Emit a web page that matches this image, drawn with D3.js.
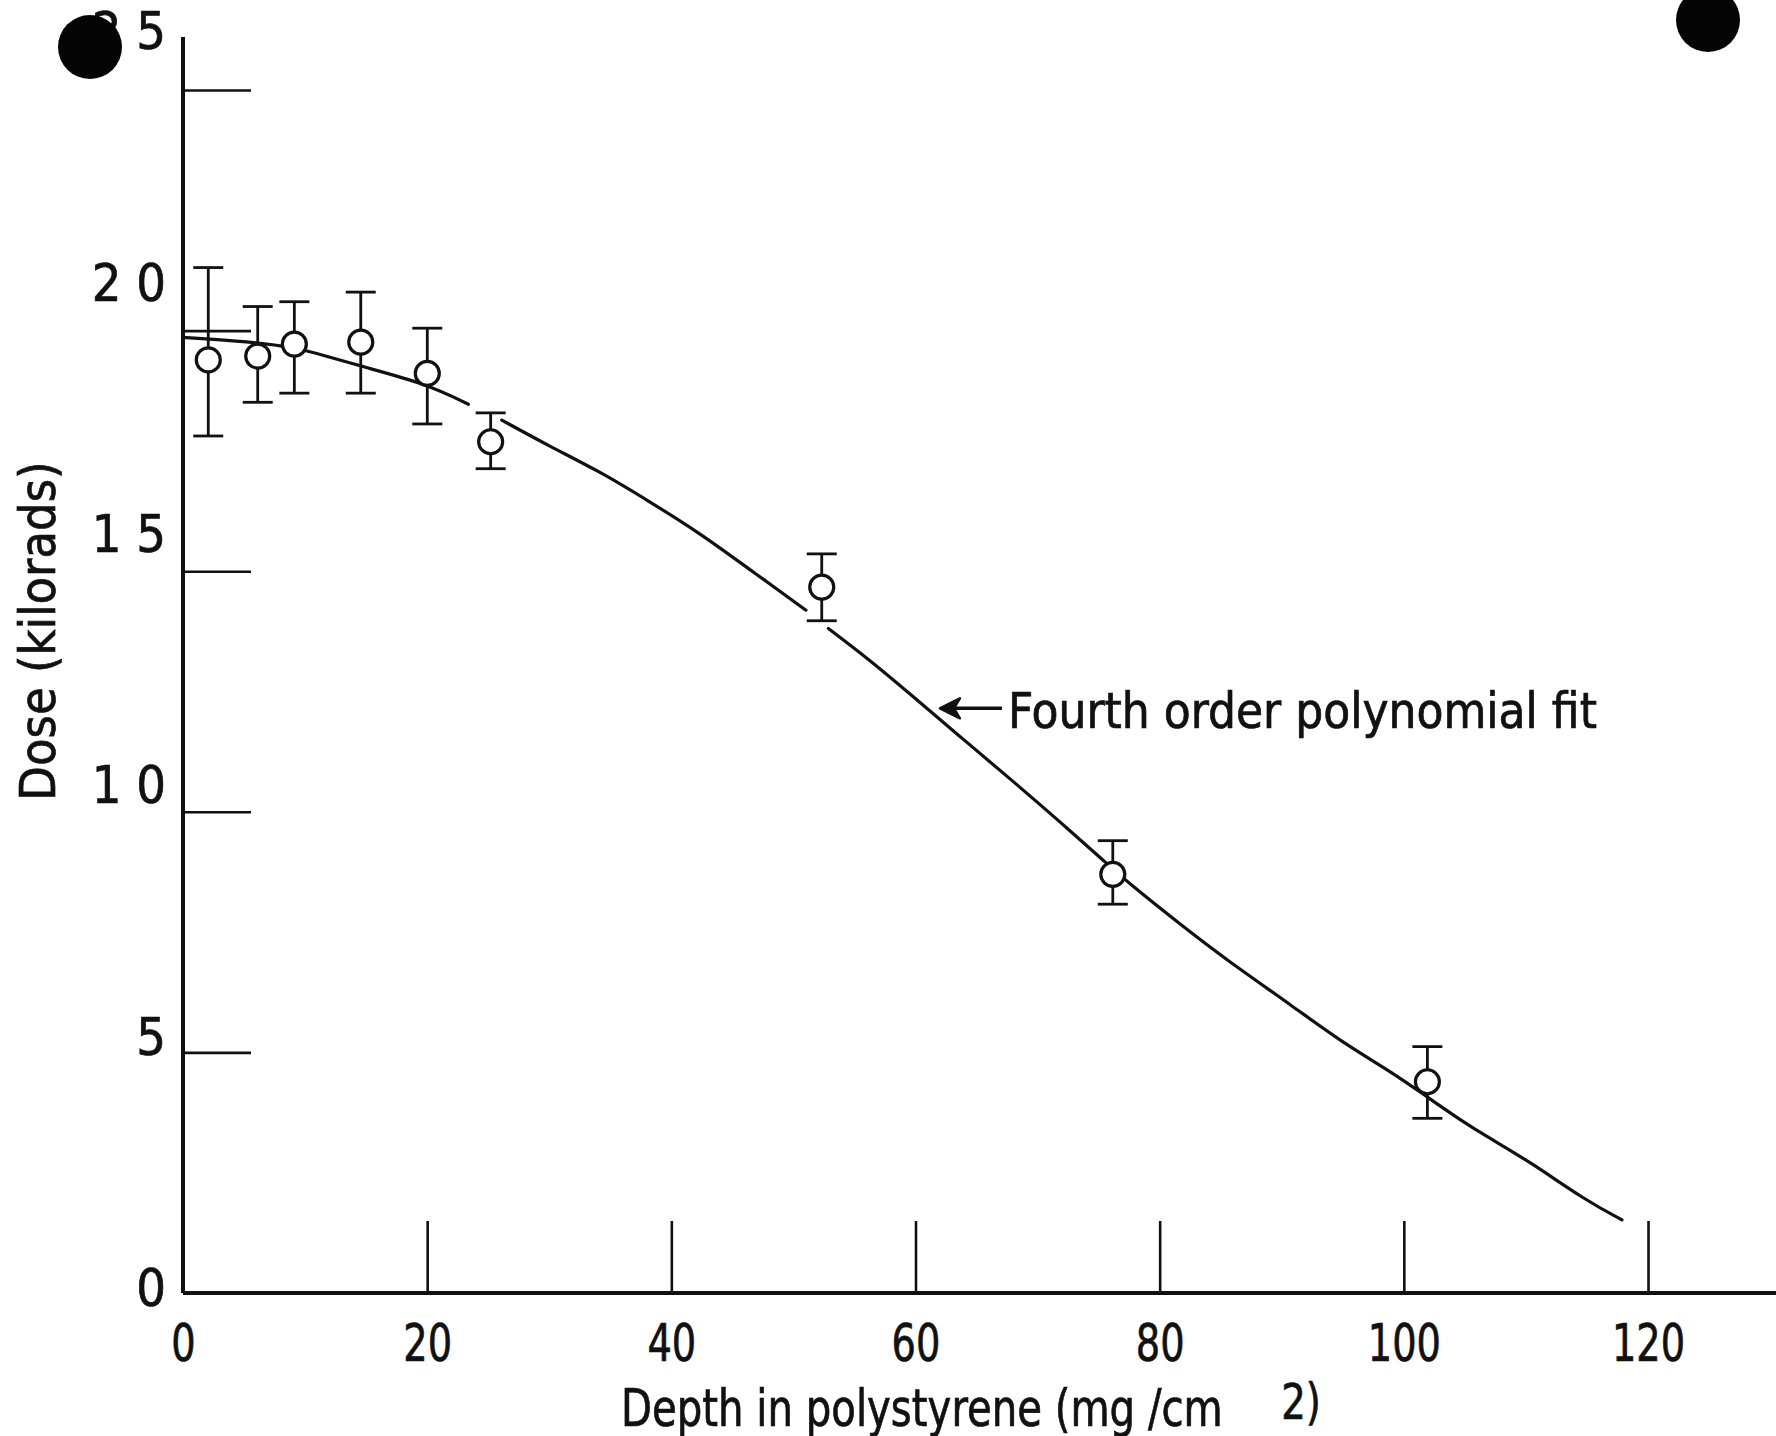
<!DOCTYPE html>
<html>
<head>
<meta charset="utf-8">
<script src="https://cdn.jsdelivr.net/npm/d3@7"></script>
<style>
body { margin: 0; background: #fff; }
svg { display: block; }
text { font-family: "Liberation Sans Narrow", "DejaVu Sans Condensed", "Roboto Condensed", sans-serif; fill: #111; stroke: #111; stroke-width: 0.7px; }
</style>
</head>
<body>
<script>
// measured points: depth (mg/cm2) and dose (kilorads) with error bar ends
var depth    = [2.07, 6.12, 9.12, 14.56, 20.01, 25.20, 52.32, 76.16, 101.93];
var dose     = [19.39, 19.47, 19.72, 19.76, 19.11, 17.69, 14.67, 8.70, 4.39];
var doseHigh = [21.31, 20.50, 20.60, 20.80, 20.05, 18.29, 15.36, 9.40, 5.12];
var doseLow  = [17.81, 18.51, 18.70, 18.70, 18.06, 17.13, 13.97, 8.08, 3.63];

// fourth order fit, null marks a break in the drawn line
var fitDepth = [0, 5.49, 9.12, 11.49, 14.56, 20.01, 23.37, 24.8, 26.11, 30.06, 34.16, 38.25, 42.35, 46.45, 51.03, 52.0,
                52.86, 56.27, 59.22, 63.89, 68.48, 71.84, 75.53, 77.30, 81.94, 85.49, 90.95, 95.05, 99.14, 101.88,
                104.60, 107.06, 110.25, 114.92, 117.87];
var fitDose  = [19.86, 19.77, 19.65, 19.49, 19.26, 18.89, 18.47, null, 18.14, 17.59, 17.07, 16.44, 15.79, 15.03, 14.19, null,
                13.81, 13.15, 12.52, 11.51, 10.53, 9.79, 8.96, 8.55, 7.61, 6.92, 5.95, 5.19, 4.57, 4.08,
                3.60, 3.21, 2.74, 1.92, 1.52];

var xTicks = [0, 20, 40, 60, 80, 100, 120];
var yTicks = [0, 5, 10, 15, 20, 25];
var yTickLabels = ["0", "5", "1 0", "1 5", "2 0", "2 5"];

var note = {depth: 62.0, dose: 12.15, text: "Fourth order polynomial fit"};

// set the dimensions and margins of the graph
var margin = {top: 90, right: 128, bottom: 143, left: 183},
    width = 1776 - margin.left - margin.right,
    height = 1436 - margin.top - margin.bottom;

var x = d3.scaleLinear().domain([0, 120]).range([0, width]);
var y = d3.scaleLinear().domain([0, 25]).range([height, 0]);

// the scanned tick labels drift upward along the axis
var labelShift = d3.scaleLinear().domain([0, 25]).range([-4, -58]);

var root = d3.select("body").append("svg")
    .attr("width", width + margin.left + margin.right)
    .attr("height", height + margin.top + margin.bottom);

root.append("rect")
    .attr("width", width + margin.left + margin.right)
    .attr("height", height + margin.top + margin.bottom)
    .style("fill", "#fff");

var svg = root.append("g")
    .attr("transform", "translate(" + margin.left + "," + margin.top + ")");

// x axis, ticks pointing up
var xAxis = svg.append("g")
    .attr("transform", "translate(0," + height + ")")
    .call(d3.axisBottom(x)
        .tickValues(xTicks)
        .tickSize(-72)
        .tickPadding(31)
        .tickFormat(d3.format("d")));
xAxis.select(".domain").remove();
xAxis.selectAll(".tick line").attr("stroke", "#111").attr("stroke-width", 2.6);
xAxis.selectAll(".tick text")
    .style("font-size", "52px")
    .attr("fill", "#111")
    .attr("transform", "scale(0.82,1)");

// y axis, ticks pointing right
var yAxis = svg.append("g")
    .call(d3.axisLeft(y)
        .tickValues(yTicks)
        .tickSize(-68)
        .tickPadding(17)
        .tickFormat(function(d, i) { return yTickLabels[i]; }));
yAxis.select(".domain").remove();
yAxis.selectAll(".tick line").attr("stroke", "#111").attr("stroke-width", 2.6);
yAxis.selectAll(".tick text")
    .style("font-size", "52px")
    .attr("fill", "#111")
    .attr("y", function(d) { return labelShift(d); });

// axis lines drawn heavier, x line runs off the page
svg.append("line")
    .attr("x1", x(0)).attr("x2", width + margin.right)
    .attr("y1", y(0)).attr("y2", y(0))
    .attr("stroke", "#111").attr("stroke-width", 4);
svg.append("line")
    .attr("x1", x(0)).attr("x2", x(0))
    .attr("y1", y(0)).attr("y2", y(26.1))
    .attr("stroke", "#111").attr("stroke-width", 4);

// fit curve
var fit = fitDepth.map(function(d, i) { return {depth: d, dose: fitDose[i]}; });
var valueline = d3.line()
    .defined(function(d) { return d.dose != null; })
    .curve(d3.curveBasis)
    .x(function(d) { return x(d.depth); })
    .y(function(d) { return y(d.dose); });

svg.append("path")
    .datum(fit)
    .attr("fill", "none")
    .attr("stroke", "#111")
    .attr("stroke-width", 3.2)
    .attr("stroke-linecap", "round")
    .attr("d", valueline);

// error bars and open circles
var points = depth.map(function(d, i) {
    return {depth: d, dose: dose[i], hi: doseHigh[i], lo: doseLow[i]};
});

var bars = svg.selectAll(".bar")
    .data(points)
    .enter()
    .append("g")
    .attr("class", "bar")
    .attr("stroke", "#111")
    .attr("stroke-width", 2.8);

bars.append("line")
    .attr("x1", function(d) { return x(d.depth); })
    .attr("x2", function(d) { return x(d.depth); })
    .attr("y1", function(d) { return y(d.hi); })
    .attr("y2", function(d) { return y(d.lo); });
bars.append("line")
    .attr("x1", function(d) { return x(d.depth) - 15; })
    .attr("x2", function(d) { return x(d.depth) + 15; })
    .attr("y1", function(d) { return y(d.hi); })
    .attr("y2", function(d) { return y(d.hi); });
bars.append("line")
    .attr("x1", function(d) { return x(d.depth) - 15; })
    .attr("x2", function(d) { return x(d.depth) + 15; })
    .attr("y1", function(d) { return y(d.lo); })
    .attr("y2", function(d) { return y(d.lo); });
bars.append("circle")
    .attr("cx", function(d) { return x(d.depth); })
    .attr("cy", function(d) { return y(d.dose); })
    .attr("r", 12)
    .attr("fill", "#fff")
    .attr("stroke-width", 3.2);

// arrow and label for the fit
var nx = x(note.depth), ny = y(note.dose);
svg.append("line")
    .attr("x1", nx + 8).attr("x2", nx + 62)
    .attr("y1", ny).attr("y2", ny)
    .attr("stroke", "#111").attr("stroke-width", 3.5);
svg.append("path")
    .attr("d", "M" + nx + "," + ny + "L" + (nx + 20) + "," + (ny - 10) + "L" + (nx + 14) + "," + ny +
        "L" + (nx + 20) + "," + (ny + 10) + "Z")
    .attr("fill", "#111")
    .attr("stroke", "#111")
    .attr("stroke-width", 2.5)
    .attr("stroke-linejoin", "round");
svg.append("text")
    .attr("x", nx + 68)
    .attr("y", ny + 20)
    .style("font-size", "49px")
    .text(note.text);

// axis titles
var xt = svg.append("text")
    .attr("transform", "translate(438," + (height + 133) + ") scale(0.86,1)")
    .style("font-size", "52px");
xt.append("tspan").text("Depth in polystyrene (mg /cm");
xt.append("tspan").attr("dx", 68).attr("dy", -7).style("font-size", "50px").text("2)");

svg.append("text")
    .attr("transform", "translate(" + (55 - margin.left) + "," + (631 - margin.top) + ") rotate(-90)")
    .attr("text-anchor", "middle")
    .style("font-size", "50px")
    .text("Dose (kilorads)");

// punched holes from the scanned page
root.append("circle").attr("cx", 90).attr("cy", 47).attr("r", 32).attr("fill", "#050505");
root.append("circle").attr("cx", 1708).attr("cy", 20).attr("r", 32).attr("fill", "#050505");
</script>
</body>
</html>
